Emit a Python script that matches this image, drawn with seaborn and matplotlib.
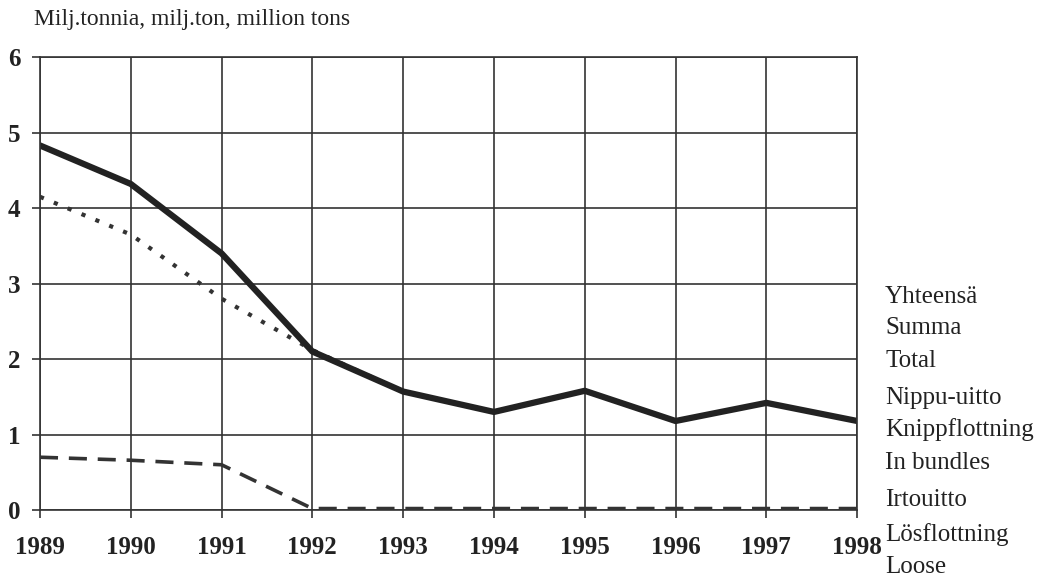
import matplotlib
matplotlib.use('Agg')
import matplotlib.pyplot as plt
import seaborn as sns
import pandas as pd

years = [1989, 1990, 1991, 1992, 1993, 1994, 1995, 1996, 1997, 1998]
total = [4.83, 4.32, 3.40, 2.10, 1.57, 1.30, 1.58, 1.18, 1.42, 1.18]
bundles = [4.15, 3.65, 2.80, 2.12, 1.57, 1.30, 1.58, 1.18, 1.42, 1.18]
loose = [0.70, 0.66, 0.60, 0.02, 0.02, 0.02, 0.02, 0.02, 0.02, 0.02]

y_ticks = [0, 1, 2, 3, 4, 5, 6]
unit_label = 'Milj.tonnia, milj.ton, million tons'
legend_lines = ['Yhteensä', 'Summa', 'Total',
                'Nippu-uitto', 'Knippflottning', 'In bundles',
                'Irtouitto', 'Lösflottning', 'Loose']

sns.set_style('white')
plt.rcParams['font.family'] = ['Liberation Serif', 'DejaVu Serif']

df = pd.DataFrame({'year': years, 'total': total, 'bundles': bundles, 'loose': loose})

fig = plt.figure(figsize=(10.41, 5.77), dpi=100)
ax = fig.add_axes([0.0384, 0.116, 0.785, 0.785])

# grid first so lines sit on top
ax.set_axisbelow(True)
ax.grid(True, color='#333333', linewidth=1.2)

sns.lineplot(data=df, x='year', y='bundles', ax=ax, color='#333333',
             linewidth=3.0, linestyle=(0, (1, 2.6)))
sns.lineplot(data=df, x='year', y='loose', ax=ax, color='#333333',
             linewidth=2.6, linestyle=(0, (5, 3)))
sns.lineplot(data=df, x='year', y='total', ax=ax, color='#222222',
             linewidth=4.5, solid_joinstyle='round')

ax.set_xlim(years[0], years[-1])
ax.set_ylim(y_ticks[0], y_ticks[-1])
ax.set_xticks(years)
ax.set_yticks(y_ticks)
ax.set_xlabel('')
ax.set_ylabel('')
ax.tick_params(axis='both', direction='out', length=6, width=1.2, color='#333333',
               labelsize=18, labelcolor='#222222', bottom=True, left=True)
ax.tick_params(axis='x', pad=13)
ax.tick_params(axis='y', pad=8)
for lab in ax.get_xticklabels() + ax.get_yticklabels():
    lab.set_fontweight('bold')
for sp in ax.spines.values():
    sp.set_color('#333333')
    sp.set_linewidth(1.2)

fig.text(0.033, 0.966, unit_label, fontsize=17, color='#222222', va='center')

ys = [297, 328, 361, 398, 430, 463, 500, 535, 567]
for txt, yp in zip(legend_lines, ys):
    fig.text(885 / 1041, 1 - yp / 577, txt, fontsize=18, color='#222222', va='center')

fig.savefig('out.png', dpi=100, facecolor='white')
